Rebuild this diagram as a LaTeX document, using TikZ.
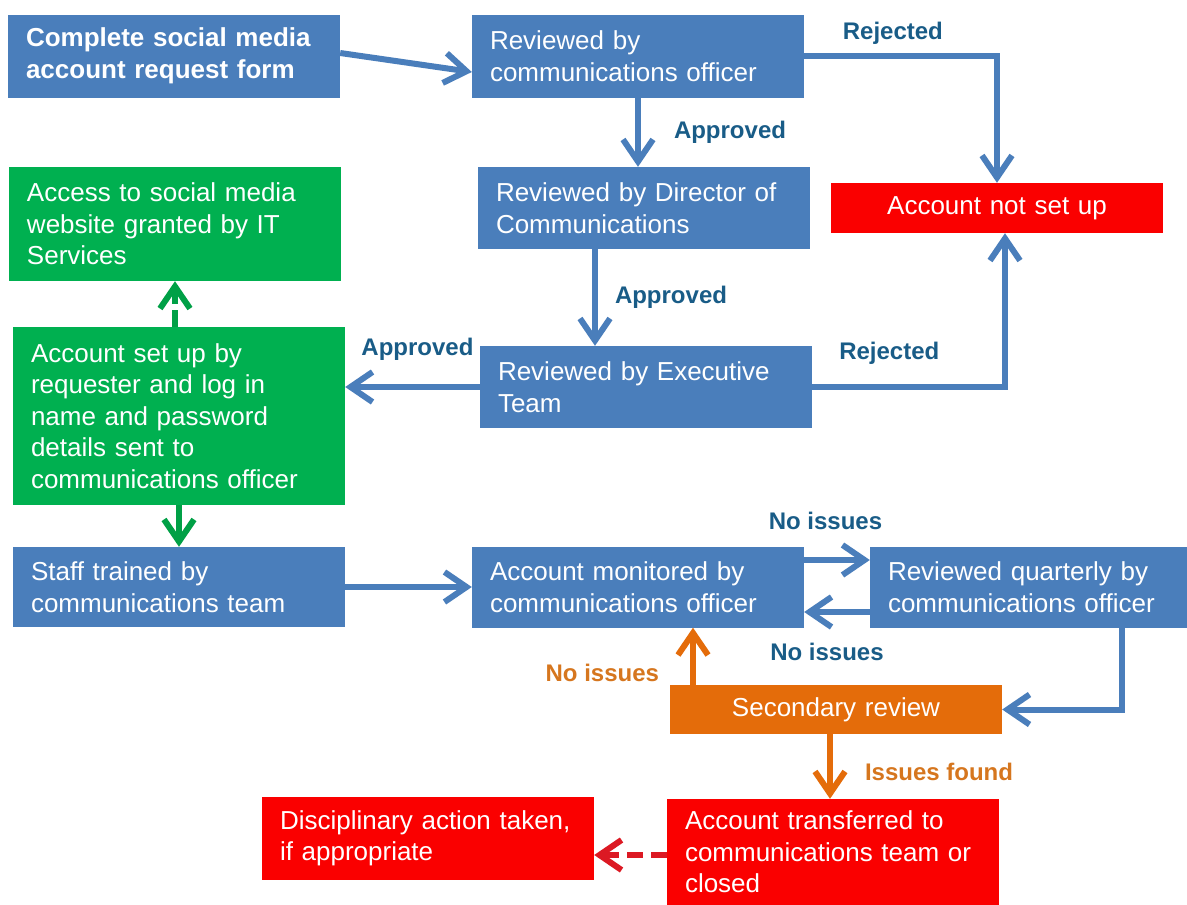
\documentclass[tikz,border=0pt]{standalone}
\usepackage{fontspec}
\setmainfont{Liberation Sans}
\usetikzlibrary{arrows.meta, calc}

\definecolor{boxblue}{RGB}{74,126,187}
\definecolor{boxgreen}{RGB}{0,176,80}
\definecolor{boxred}{RGB}{250,0,0}
\definecolor{boxorange}{RGB}{228,108,10}
\definecolor{textblue}{RGB}{25,92,135}
\definecolor{textorange}{RGB}{214,118,30}
\definecolor{arrowgreen}{RGB}{0,160,70}
\definecolor{arrowred}{RGB}{220,25,35}

\newcommand{\boxfont}{\fontsize{26}{31.5}\selectfont}
\newcommand{\tagfont}{\fontsize{24}{28}\selectfont\bfseries}

\tikzstyle{bluebox} = [rectangle,
minimum width=332pt,
text width=296pt,
inner xsep=18pt,
inner ysep=0pt,
align=left,
font=\boxfont,
text=white,
fill=boxblue]
\tikzstyle{greenbox} = [bluebox, fill=boxgreen]
\tikzstyle{redbox} = [bluebox, fill=boxred]
\tikzstyle{orangebox} = [bluebox, fill=boxorange]
\tikzstyle{blue_tag} = [font=\tagfont, text=textblue, inner sep=0pt]
\tikzstyle{orange_tag} = [font=\tagfont, text=textorange, inner sep=0pt]
\tikzstyle{arrow} = [line width=6pt, draw=boxblue, -{Straight Barb[length=22pt, width=30pt]}]

\begin{document}
\begin{tikzpicture}[x=1pt, y=1pt, node distance=160pt]

\fill[white] (0,0) rectangle (1187,-905);
\useasboundingbox (0,0) rectangle (1187,-905);

% Request and first reviews
\node (form) [bluebox, minimum height=83pt, font=\boxfont\bfseries] at (174,-56) {Complete social media\\account request form};
\node (review_officer) [bluebox, minimum height=83pt, right of=form, xshift=304pt] {Reviewed by\\communications  officer};
\node (review_director) [bluebox, minimum height=82pt, below of=review_officer, xshift=6pt, yshift=8pt] {Reviewed by Director of\\Communications};
\node (not_setup) [redbox, minimum height=50pt, align=center, right of=review_director, xshift=193pt] {Account not set up};
\node (review_exec) [bluebox, minimum height=82pt, below of=review_director, xshift=2pt, yshift=-19pt] {Reviewed by Executive\\Team};

% Green boxes on the left
\node (access) [greenbox, minimum height=114pt, below of=form, xshift=1pt, yshift=-8pt] {Access to social media\\website granted  by IT\\Services};
\node (setup) [greenbox, minimum height=178pt, below of=access, xshift=4pt, yshift=-32pt] {Account set up by\\requester  and log in\\name  and password\\details sent to\\communications  officer};

% Monitoring loop
\node (trained) [bluebox, minimum height=80pt, below of=setup, yshift=-11pt] {Staff trained by\\communications team};
\node (monitored) [bluebox, minimum height=81pt, right of=trained, xshift=299pt] {Account monitored by\\communications  officer};
\node (quarterly) [bluebox, minimum height=81pt, right of=monitored, xshift=238pt] {Reviewed quarterly  by\\communications  officer};
\node (secondary) [orangebox, minimum height=49pt, align=center, below of=monitored, xshift=198pt, yshift=37.5pt] {Secondary  review};
\node (transferred) [redbox, minimum height=106pt, below of=secondary, xshift=-3pt, yshift=17.5pt] {Account transferred  to\\communications  team or\\closed};
\node (disciplinary) [redbox, minimum height=83pt, left of=transferred, xshift=-245pt, yshift=13.5pt] {Disciplinary action taken,\\if appropriate};

% Arrow start points off the box centres
\coordinate (director_out) at ($(review_director.south)+(-49,0)$);
\coordinate (monitored_out) at ($(monitored.east)+(0,27)$);
\coordinate (quarterly_out) at ($(quarterly.west)+(0,-25)$);
\coordinate (quarterly_down) at ($(quarterly.south)+(86,0)$);
\coordinate (secondary_up) at ($(secondary.north)+(-143,0)$);
\coordinate (secondary_down) at ($(secondary.south)+(-6,0)$);
\coordinate (transferred_out) at ($(transferred.west)+(0,-3)$);

% Connectors
\draw [arrow] ($(form.east)+(0,3)$) -- ($(review_officer.west)+(0,-16)$);
\draw [arrow] (review_officer.east) -| node[blue_tag, pos=0.23, yshift=22.5pt] {Rejected} (not_setup.north);
\draw [arrow] (review_officer.south) -- node[blue_tag, midway, right, xshift=33pt] {Approved} (review_officer.south |- review_director.north);
\draw [arrow] (director_out) -- node[blue_tag, midway, right, xshift=17pt] {Approved} (director_out |- review_exec.north);
\draw [arrow] (review_exec.east) -| node[blue_tag, pos=0.2, yshift=34pt] {Rejected} ($(not_setup.south)+(8,0)$);
\draw [arrow] (review_exec.west) -- node[blue_tag, midway, xshift=5pt, yshift=38pt] {Approved} (review_exec.west -| setup.east);

\draw [arrow, draw=arrowgreen, dash pattern=on 17pt off 6pt] (setup.north -| access.south) -- (access.south);
\draw [arrow, draw=arrowgreen] (setup.south) -- (trained.north);
\draw [arrow] (trained.east) -- (trained.east -| monitored.west);

\draw [arrow] (monitored_out) -- node[blue_tag, midway, xshift=-11.5pt, yshift=39pt] {No issues} (monitored_out -| quarterly.west);
\draw [arrow] (quarterly_out) -- node[blue_tag, midway, xshift=-10pt, yshift=-40pt] {No issues} (quarterly_out -| monitored.east);
\draw [arrow] (quarterly_down) |- (secondary.east);

\draw [arrow, draw=boxorange] (secondary_up) -- node[orange_tag, pos=0.2, left, xshift=-31pt] {No issues} (secondary_up |- monitored.south);
\draw [arrow, draw=boxorange] (secondary_down) -- node[orange_tag, midway, right, xshift=32pt, yshift=-5.5pt] {Issues found} (secondary_down |- transferred.north);
\draw [arrow, draw=arrowred, dash pattern=on 16pt off 8pt] (transferred_out) -- (transferred_out -| disciplinary.east);

\end{tikzpicture}
\end{document}
